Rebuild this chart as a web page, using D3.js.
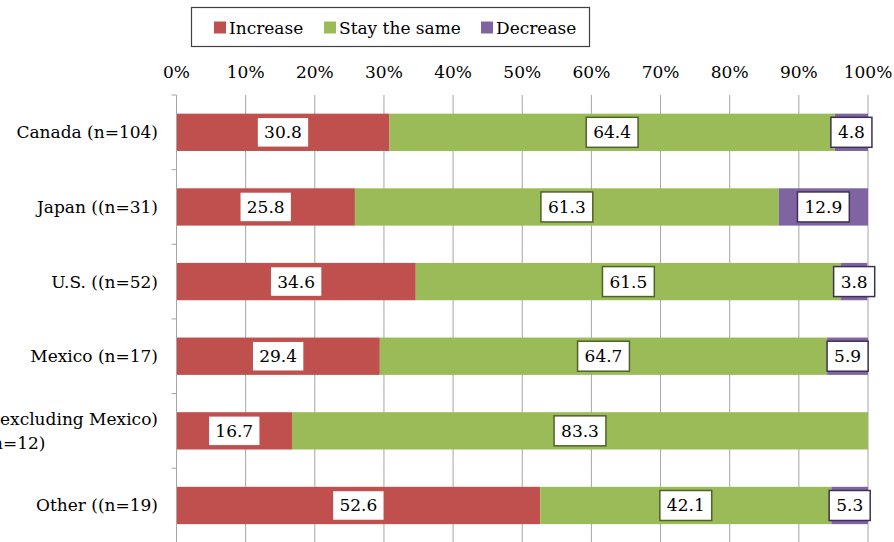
<!DOCTYPE html>
<html>
<head>
<meta charset="utf-8">
<script src="https://cdn.jsdelivr.net/npm/d3@7"></script>
<style>
  body { margin: 0; background: #fff; }
  svg text { font-family: "DejaVu Serif", serif; fill: #000; }
</style>
</head>
<body>
<svg id="chart"></svg>
<script>
const categories = ['Canada (n=104)', 'Japan ((n=31)', 'U.S. ((n=52)', 'Mexico (n=17)', 'Latin America (excluding Mexico)|((n=12)', 'Other ((n=19)'],
series = ['Increase', 'Stay the same', 'Decrease'],
increase = [30.8, 25.8, 34.6, 29.4, 16.7, 52.6],
stay = [64.4, 61.3, 61.5, 64.7, 83.3, 42.1],
decrease = [4.8, 12.9, 3.8, 5.9, 0, 5.3],
ticks = [0, 10, 20, 30, 40, 50, 60, 70, 80, 90, 100],
colors = ['#C0504D', '#9BBB59', '#8064A2'],
borders = ['#C0504D', '#4F6228', '#3F3151'],
width = 894,
height = 542,
fontSize = '17px';

const values = [increase, stay, decrease];

const svg = d3.select('#chart')
.attr('width', width)
.attr('height', height);

const x = d3.scaleLinear()
.domain([0, 100])
.range([176.5, 868]);

const y = d3.scaleBand()
.domain(categories)
.range([95, 542.8])
.paddingInner(0.5)
.paddingOuter(0.25);

// gridlines
svg.append('g')
.selectAll('line')
.data(ticks.slice(1))
.enter().append('line')
.attr('x1', (d) => x(d))
.attr('x2', (d) => x(d))
.attr('y1', 95)
.attr('y2', height)
.attr('stroke', '#a6a6a6')
.attr('stroke-width', 1);

// top tick labels
svg.append('g')
.selectAll('text')
.data(ticks)
.enter().append('text')
.attr('x', (d) => x(d))
.attr('y', 72)
.attr('dy', '0.35em')
.attr('text-anchor', 'middle')
.style('font-size', fontSize)
.text((d) => `${d}%`);

// stacked bars
const rows = categories.map((c, i) => {
  let start = 0;
  return values.map((s, k) => {
    const seg = {cat: c, k: k, v: s[i], x0: start, x1: start + s[i]};
    start += s[i];
    return seg;
  });
});
const segs = rows.flat().filter((d) => d.v > 0);

svg.append('g')
.selectAll('rect')
.data(segs)
.enter().append('rect')
.attr('x', (d) => x(d.x0))
.attr('width', (d) => x(d.x1) - x(d.x0))
.attr('y', (d) => y(d.cat))
.attr('height', y.bandwidth())
.attr('fill', (d) => colors[d.k]);

// left axis
const step = y.step();
const left = svg.append('g');
left.append('line')
.attr('x1', x(0)).attr('x2', x(0))
.attr('y1', 95).attr('y2', height)
.attr('stroke', '#a6a6a6');
left.selectAll('.tick')
.data(d3.range(categories.length + 1))
.enter().append('line')
.attr('x1', x(0) - 5).attr('x2', x(0))
.attr('y1', (d) => 95 + d * step)
.attr('y2', (d) => 95 + d * step)
.attr('stroke', '#a6a6a6');

// category labels (wrapped ones: first line right aligned, next centred under it)
const labelX = 158;
svg.append('g')
.selectAll('text')
.data(categories)
.enter().append('text')
.attr('x', labelX)
.attr('y', (d) => y(d) + y.bandwidth() / 2)
.style('font-size', fontSize)
.each(function(d) {
  const lines = d.split('|');
  const t = d3.select(this);
  if (lines.length === 1) {
    t.attr('text-anchor', 'end').attr('dy', '0.35em').text(d);
    return;
  }
  const cy = +t.attr('y');
  t.attr('text-anchor', 'end').attr('y', cy - 12).attr('dy', '0.35em').text(lines[0]);
  const w = this.getComputedTextLength();
  d3.select(this.parentNode).append('text')
    .attr('x', labelX - w / 2)
    .attr('y', cy + 12)
    .attr('dy', '0.35em')
    .attr('text-anchor', 'middle')
    .style('font-size', fontSize)
    .text(lines[1]);
});

// data labels
const labels = svg.append('g')
.selectAll('g')
.data(segs)
.enter().append('g')
.attr('transform', (d) => `translate(${x((d.x0 + d.x1) / 2)},${y(d.cat) + y.bandwidth() / 2})`);

labels.append('text')
.attr('text-anchor', 'middle')
.attr('dy', '0.35em')
.style('font-size', fontSize)
.text((d) => d.v.toFixed(1));

labels.each(function(d) {
  const g = d3.select(this);
  const bb = g.select('text').node().getBBox();
  g.insert('rect', 'text')
    .attr('x', -bb.width / 2 - 7)
    .attr('y', -15)
    .attr('width', bb.width + 14)
    .attr('height', 30)
    .attr('fill', '#fff')
    .attr('stroke', borders[d.k])
    .attr('stroke-width', 1.5);
});

// legend
const legend = svg.append('g');
legend.append('rect')
.attr('x', 191.5).attr('y', 7.5)
.attr('width', 398).attr('height', 39)
.attr('fill', '#fff')
.attr('stroke', '#404040')
.attr('stroke-width', 1.2);

const legendX = [214, 324, 481];
const items = legend.selectAll('g')
.data(series)
.enter().append('g')
.attr('transform', (d, i) => `translate(${legendX[i]},0)`);

items.append('rect')
.attr('x', 0).attr('y', 21.5)
.attr('width', 12).attr('height', 12)
.attr('fill', (d, i) => colors[i]);

items.append('text')
.attr('x', 15)
.attr('y', 28)
.attr('dy', '0.35em')
.style('font-size', fontSize)
.text((d) => d);
</script>
</body>
</html>
